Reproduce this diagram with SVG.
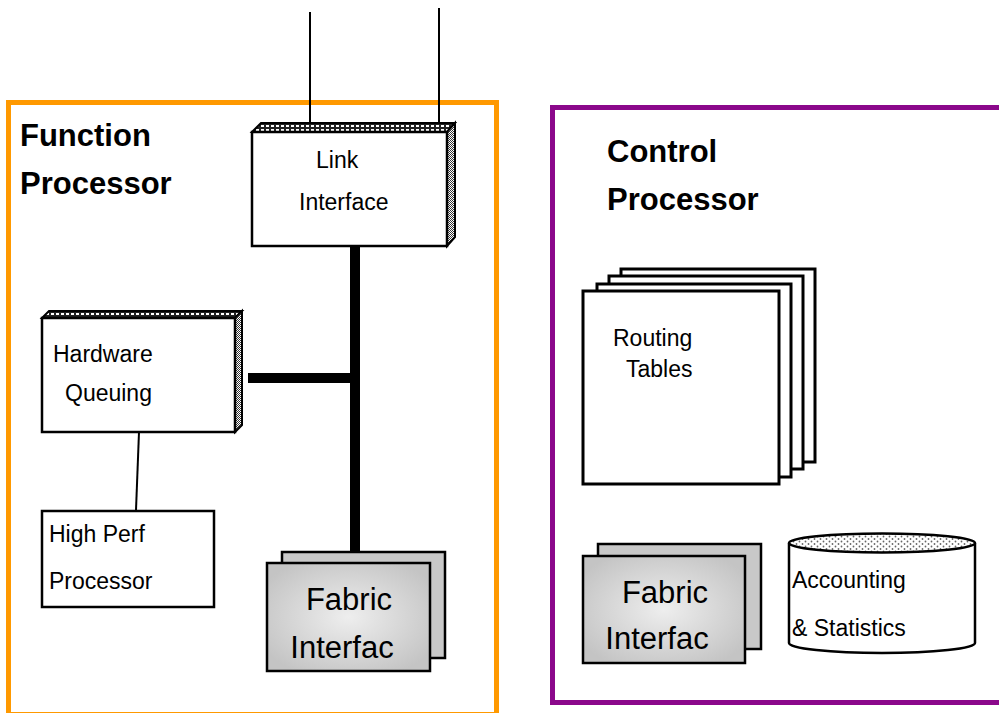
<svg xmlns="http://www.w3.org/2000/svg" width="999" height="713" viewBox="0 0 999 713">
  <defs>
    <style>
      .lbl { font-family: "Liberation Sans", Arial, sans-serif; font-size: 23px; fill: #000; }
      .title { font-family: "Liberation Sans", Arial, sans-serif; font-size: 31px; font-weight: bold; fill: #000; }
      .big { font-family: "Liberation Sans", Arial, sans-serif; font-size: 31px; fill: #000; }
      .edge { fill: none; stroke: #000; stroke-width: 2; }
      .box { fill: #fff; stroke: #000; stroke-width: 2.5; }
      .sheet { fill: #fff; stroke: #000; stroke-width: 3; }
      .bus { stroke: #000; stroke-width: 10; fill: none; }
      .fab-back { fill: #c8c8c8; stroke: #000; stroke-width: 2.5; }
      .fab-front { fill: url(#fabGrad); stroke: #000; stroke-width: 2.5; }
      .top3d { fill: url(#holes); stroke: #000; stroke-width: 2; }
      .side3d { fill: url(#checker); stroke: #000; stroke-width: 2; }
    </style>
    <!-- small light holes on a dark ground for the top bevel -->
    <pattern id="holes" width="5" height="4" patternUnits="userSpaceOnUse">
      <rect width="5" height="4" fill="#222"/>
      <rect x="1" y="1" width="3" height="2" fill="#fff"/>
    </pattern>
    <!-- fine checker for the side bevel -->
    <pattern id="checker" width="2" height="2" patternUnits="userSpaceOnUse">
      <rect width="2" height="2" fill="#fff"/>
      <rect width="1" height="1" fill="#333"/>
      <rect x="1" y="1" width="1" height="1" fill="#333"/>
    </pattern>
    <!-- dotted lid of the storage cylinder -->
    <pattern id="dots" width="6" height="5" patternUnits="userSpaceOnUse">
      <rect width="6" height="5" fill="#fff"/>
      <circle cx="1.5" cy="1.5" r="0.9" fill="#666"/>
      <circle cx="4.5" cy="4" r="0.9" fill="#666"/>
    </pattern>
    <radialGradient id="fabGrad" cx="0.5" cy="0.5" r="0.6">
      <stop offset="0" stop-color="#eeeeee"/>
      <stop offset="1" stop-color="#c4c4c4"/>
    </radialGradient>
  </defs>

  <rect width="999" height="713" fill="#fff"/>

  <!-- processor frames -->
  <g id="function-processor">
    <rect x="8.5" y="102.5" width="488" height="612" fill="none" stroke="#FF9900" stroke-width="5"/>
    <text class="title" x="20" y="146">Function</text>
    <text class="title" x="20" y="194">Processor</text>
  </g>
  <g id="control-processor">
    <rect x="552.5" y="107.5" width="460" height="595" fill="none" stroke="#8B088B" stroke-width="5"/>
    <text class="title" x="607" y="162">Control</text>
    <text class="title" x="607" y="210">Processor</text>
  </g>

  <!-- connectors -->
  <g id="connectors">
    <line class="edge" x1="310" y1="12" x2="310" y2="123"/>
    <line class="edge" x1="439" y1="8" x2="439" y2="123"/>
    <line class="bus" x1="355" y1="246" x2="355" y2="552"/>
    <line class="bus" x1="248" y1="378" x2="355" y2="378"/>
    <line class="edge" x1="139" y1="432" x2="136" y2="510"/>
  </g>

  <g id="link-interface">
    <polygon class="top3d" points="252,132 261,123 455,123 447,132"/>
    <polygon class="side3d" points="447,132 455,123 455,237 447,246"/>
    <rect class="box" x="252" y="132" width="195" height="114"/>
    <text class="lbl" x="316" y="168">Link</text>
    <text class="lbl" x="299" y="210">Interface</text>
  </g>

  <g id="hardware-queuing">
    <polygon class="top3d" points="42,318 49,311 242,311 235,318"/>
    <polygon class="side3d" points="235,318 242,311 242,425 235,432"/>
    <rect class="box" x="42" y="318" width="193" height="114"/>
    <text class="lbl" x="53" y="362">Hardware</text>
    <text class="lbl" x="65" y="401">Queuing</text>
  </g>

  <g id="high-perf-processor">
    <rect class="box" x="42" y="511" width="172" height="96"/>
    <text class="lbl" x="49" y="542">High Perf</text>
    <text class="lbl" x="49" y="589">Processor</text>
  </g>

  <g id="fabric-interface-fp">
    <rect class="fab-back" x="282" y="552" width="163" height="106"/>
    <rect class="fab-front" x="267" y="563" width="163" height="108"/>
    <text class="big" x="349" y="610" text-anchor="middle">Fabric</text>
    <text class="big" x="342" y="658" text-anchor="middle">Interfac</text>
  </g>

  <g id="routing-tables">
    <rect class="sheet" x="621" y="269" width="194" height="193"/>
    <rect class="sheet" x="609" y="276" width="194" height="193"/>
    <rect class="sheet" x="597" y="284" width="194" height="193"/>
    <rect class="sheet" x="583" y="291" width="196" height="193"/>
    <text class="lbl" x="613" y="346">Routing</text>
    <text class="lbl" x="626" y="377">Tables</text>
  </g>

  <g id="fabric-interface-cp">
    <rect class="fab-back" x="598" y="544" width="163" height="105"/>
    <rect class="fab-front" x="583" y="556" width="162" height="107"/>
    <text class="big" x="665" y="603" text-anchor="middle">Fabric</text>
    <text class="big" x="657" y="649" text-anchor="middle">Interfac</text>
  </g>

  <g id="accounting-statistics">
    <path d="M789,543 L789,643 A93,10 0 0 0 975,643 L975,543" fill="#fff" stroke="#000" stroke-width="2.5"/>
    <ellipse cx="882" cy="543" rx="93" ry="9.5" fill="url(#dots)" stroke="#000" stroke-width="2.5"/>
    <text class="lbl" x="792" y="588">Accounting</text>
    <text class="lbl" x="792" y="636">&amp; Statistics</text>
  </g>
</svg>
